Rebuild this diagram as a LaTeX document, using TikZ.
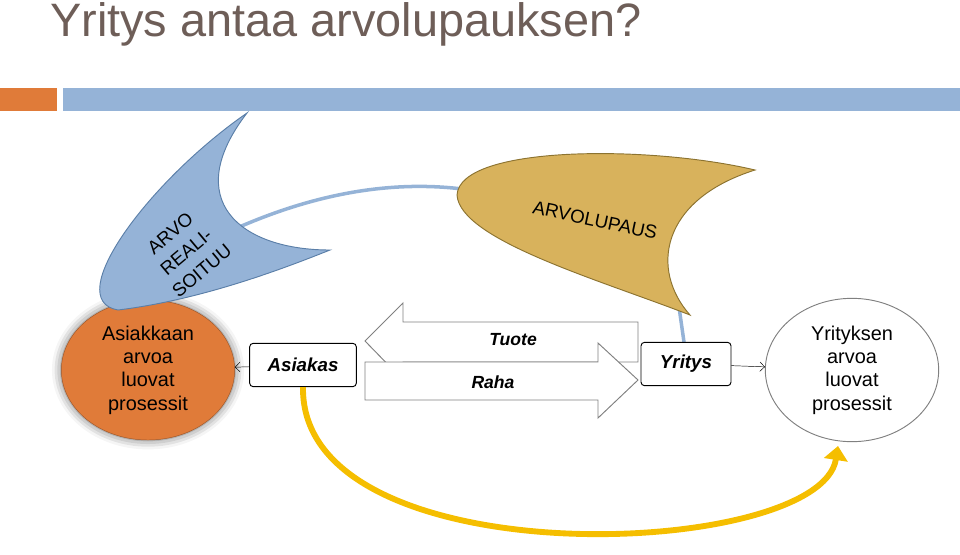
\documentclass[tikz,border=0pt]{standalone}
\usepackage{fontspec}
\setmainfont{Liberation Sans}
\usetikzlibrary{arrows.meta,shadows.blur,shapes.geometric}
\definecolor{titlegray}{HTML}{6E5E58}
\definecolor{barorange}{HTML}{E07B39}
\definecolor{barblue}{HTML}{95B3D7}
\definecolor{darkblue}{HTML}{5B7FA8}
\definecolor{gold}{HTML}{D8B25C}
\definecolor{darkgold}{HTML}{8C7330}
\definecolor{yellowline}{HTML}{F5BE00}
\tikzset{
  actor/.style={draw, thick, rounded corners=3pt, fill=white,
    minimum height=1.3cm, font=\bfseries\itshape\fontsize{16}{16}\selectfont},
  procs/.style={ellipse, align=center, font=\fontsize{17}{20}\selectfont},
  flow/.style={draw=gray, thick, fill=white},
}
\begin{document}
\begin{tikzpicture}[x=0.03cm,y=-0.03cm]
\useasboundingbox (0,0) rectangle (960,554);
%
%% Titolo e barre
  \node[anchor=base west, text=titlegray, inner sep=0,
    font=\fontsize{40}{40}\selectfont] (title) at (50,36) {Yritys antaa arvolupauksen?};
  \fill[barorange] (0,88) rectangle (57,111);
  \fill[barblue] (63,88) rectangle (960,111);
%
%% Processi
  \node[procs, fill=barorange, draw=barorange!70!black,
    blur shadow={shadow xshift=0pt, shadow yshift=0pt, shadow blur radius=8pt, shadow opacity=60},
    minimum width=5.2cm, minimum height=4.2cm] (asproc) at (148,370)
    {Asiakkaan\\arvoa\\luovat\\prosessit};
  \node[procs, draw=gray, thick, minimum width=5.2cm, minimum height=4.3cm]
    (yrproc) at (852,370) {Yrityksen\\arvoa\\luovat\\prosessit};
%
%% Linea di collegamento
  \draw[barblue, line width=3pt] (228,232) .. controls (320,190) and (400,180) .. (470,190);
  \draw[barblue, line width=3pt] (678,300) -- (684,342);
%
%% Forme
  \draw[darkblue, fill=barblue, thick] (247,113)
    .. controls (150,180) and (60,300) .. (118,310)
    .. controls (200,300) and (280,270) .. (330,250)
    .. controls (240,250) and (180,200) .. cycle;
  \node[rotate=40, align=center, font=\fontsize{16}{21}\selectfont] (real) at (186,252)
    {ARVO\\REALI-\\SOITUU};
  \draw[darkgold, fill=gold, thick] (755,170)
    .. controls (650,145) and (460,145) .. (457,195)
    .. controls (460,240) and (600,280) .. (690,315)
    .. controls (650,270) and (660,200) .. cycle;
  \node[rotate=-12, font=\fontsize{16}{16}\selectfont] (lupaus) at (595,220) {ARVOLUPAUS};
%
%% Frecce grandi
  \draw[flow] (638,322) -- (403,322) -- (403,303) -- (365,341)
    -- (403,380) -- (403,362) -- (638,362) -- cycle;
  \draw[flow] (365,362) -- (598,362) -- (598,343) -- (638,380)
    -- (598,418) -- (598,400) -- (365,400) -- cycle;
  \node[font=\bfseries\itshape\fontsize{15}{15}\selectfont] (tuote) at (513,340) {Tuote};
  \node[font=\bfseries\itshape\fontsize{15}{15}\selectfont] (raha) at (493,382) {Raha};
%
%% Attori
  \node[actor, minimum width=3.2cm] (asiakas) at (303,365) {Asiakas};
  \node[actor, minimum width=2.7cm] (yritys) at (686,364) {Yritys};
  \draw[-{Straight Barb[length=4pt,width=8pt]}] (asiakas) -- (asproc);
  \draw[-{Straight Barb[length=4pt,width=8pt]}] (yritys) -- (yrproc);
%
%% Ritorno
  \coordinate (ret) at (838,446);
  \draw[yellowline, line width=5pt, -{Triangle[length=12pt,width=20pt]}]
    (asiakas.south) .. controls (300,580) and (820,560) .. (ret);
\end{tikzpicture}
\end{document}
